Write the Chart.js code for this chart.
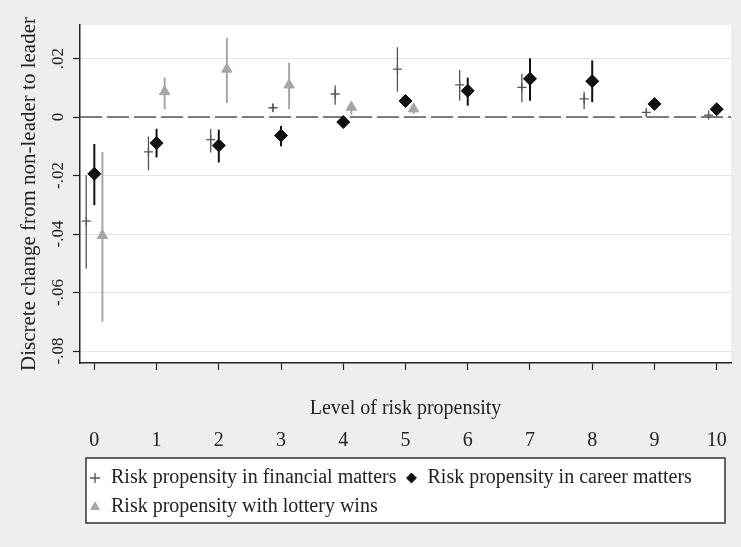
<!DOCTYPE html>
<html>
<head>
<meta charset="utf-8">
<script src="https://cdn.jsdelivr.net/npm/chart.js@4.4.1/dist/chart.umd.min.js"></script>
<style>
  html, body { margin: 0; padding: 0; background: #eeeeee; }
</style>
</head>
<body>
<canvas id="myChart" width="741" height="547"></canvas>
<script>
// risk propensity levels (x categories)
var levels = [0, 1, 2, 3, 4, 5, 6, 7, 8, 9, 10];
var xTickLabels = ["0", "1", "2", "3", "4", "5", "6", "7", "8", "9", "10"];
var yTicks = [-0.08, -0.06, -0.04, -0.02, 0, 0.02];
var yTickLabels = ["-.08", "-.06", "-.04", "-.02", "0", ".02"];
var seriesNames = [
  "Risk propensity in financial matters",
  "Risk propensity in career matters",
  "Risk propensity with lottery wins"
];

// discrete change estimates with confidence limits
var financialEst  = [-0.0356, -0.0119, -0.0077, 0.0032, 0.0079, 0.0164, 0.0110, 0.0102, 0.0062, 0.0016, 0.0007];
var financialLow  = [-0.0519, -0.0182, -0.0121, 0.0019, 0.0042, 0.0087, 0.0056, 0.0051, 0.0027, 0.0006, 0.0001];
var financialHigh = [-0.0199, -0.0066, -0.0041, 0.0045, 0.0108, 0.0239, 0.0161, 0.0148, 0.0087, 0.0026, 0.0014];

var careerEst  = [-0.0194, -0.0089, -0.0097, -0.0063, -0.0017, 0.0055, 0.0090, 0.0131, 0.0123, 0.0045, 0.0027];
var careerLow  = [-0.0301, -0.0138, -0.0155, -0.0100, -0.0024, 0.0035, 0.0039, 0.0056, 0.0051, 0.0035, 0.0021];
var careerHigh = [-0.0092, -0.0040, -0.0043, -0.0030, -0.0010, 0.0068, 0.0135, 0.0201, 0.0194, 0.0055, 0.0033];

var lotteryEst  = [-0.0405, 0.0087, 0.0164, 0.0110, 0.0034, 0.0028, null, null, null, null, null];
var lotteryLow  = [-0.0700, 0.0027, 0.0048, 0.0027, 0.0008, 0.0011, null, null, null, null, null];
var lotteryHigh = [-0.0119, 0.0135, 0.0271, 0.0186, 0.0052, 0.0037, null, null, null, null, null];

var refLineValue = 0;

var xMin = -0.23, xMax = 10.23;
var yMin = -0.0841, yMax = 0.0315;
var serif = "'Liberation Serif', 'Times New Roman', serif";
var textColor = "#222";

function pts(est, shift) {
  var out = [];
  levels.forEach(function (lv, i) {
    if (est[i] !== null) out.push({ x: lv + shift, y: est[i] });
  });
  return out;
}
function ranges(lo, hi, shift) {
  var out = [];
  levels.forEach(function (lv, i) {
    if (lo[i] !== null) out.push({ x: lv + shift, y: [lo[i], hi[i]] });
  });
  return out;
}

var bgPlugin = {
  id: "bg",
  beforeDraw: function (chart) {
    var ctx = chart.ctx, a = chart.chartArea, lg = chart.legend;
    ctx.save();
    ctx.fillStyle = "#eeeeee";
    ctx.fillRect(0, 0, chart.width, chart.height);
    ctx.fillStyle = "#ffffff";
    ctx.fillRect(a.left, a.top, a.right - a.left, a.bottom - a.top);
    // legend frame
    var l = lg.left + 6, t = lg.top - 1, r = lg.right - 6;
    ctx.fillRect(l, t, r - l, 65);
    ctx.strokeStyle = "#333";
    ctx.lineWidth = 1.5;
    ctx.strokeRect(l, t, r - l, 65);
    ctx.restore();
  }
};

new Chart("myChart", {
  type: "scatter",
  data: {
    datasets: [
      {
        label: seriesNames[0], type: "scatter", data: pts(financialEst, -0.13), order: 0,
        pointStyle: "cross", pointRadius: 4.5, borderColor: "#555", backgroundColor: "#555", borderWidth: 1.3
      },
      {
        label: seriesNames[1], type: "scatter", data: pts(careerEst, 0), order: 1,
        pointStyle: "rectRot", pointRadius: 6.5, borderColor: "#111", backgroundColor: "#111", borderWidth: 1
      },
      {
        label: seriesNames[2], type: "scatter", data: pts(lotteryEst, 0.13), order: 2,
        pointStyle: "triangle", pointRadius: 6, borderColor: "#a6a6a6", backgroundColor: "#a6a6a6", borderWidth: 1
      },
      {
        type: "bar", data: ranges(financialLow, financialHigh, -0.13), order: 3,
        grouped: false, maxBarThickness: 1.3, backgroundColor: "#555", borderWidth: 0
      },
      {
        type: "bar", data: ranges(careerLow, careerHigh, 0), order: 4,
        grouped: false, maxBarThickness: 2, backgroundColor: "#111", borderWidth: 0
      },
      {
        type: "bar", data: ranges(lotteryLow, lotteryHigh, 0.13), order: 5,
        grouped: false, maxBarThickness: 2, backgroundColor: "#a6a6a6", borderWidth: 0
      },
      {
        type: "line", data: [{ x: xMin, y: refLineValue }, { x: xMax, y: refLineValue }], order: 9,
        borderColor: "#555", borderWidth: 1.5, borderDash: [22, 5], pointRadius: 0, fill: false
      }
    ]
  },
  options: {
    responsive: false,
    animation: false,
    layout: { padding: { top: 25, right: 10, bottom: 20, left: 0 } },
    scales: {
      x: {
        type: "linear", position: "bottom", min: xMin, max: xMax, offset: false,
        grid: { display: true, drawOnChartArea: false, drawTicks: true, tickLength: 7, tickColor: "#222", tickWidth: 1.2, offset: false },
        border: { display: true, color: "#222", width: 1.5 },
        ticks: { display: false },
        afterBuildTicks: function (s) { s.ticks = levels.map(function (v) { return { value: v }; }); },
        title: {
          display: true, text: "Level of risk propensity", color: textColor,
          font: { family: serif, size: 20 }, padding: { top: 27, bottom: 0 }
        }
      },
      x2: {
        type: "linear", position: "bottom", min: xMin, max: xMax, offset: false,
        grid: { display: false, drawTicks: false },
        border: { display: false },
        ticks: {
          padding: 8, color: textColor, font: { family: serif, size: 20 },
          maxRotation: 0, autoSkip: false,
          callback: function (v, i) { return xTickLabels[i]; }
        },
        afterBuildTicks: function (s) { s.ticks = levels.map(function (v) { return { value: v }; }); },
        afterFit: function (s) { s.height = 38; }
      },
      y: {
        type: "linear", min: yMin, max: yMax,
        grid: { color: "#e6e6e6", lineWidth: 1, tickColor: "#222", tickLength: 7, tickWidth: 1.2 },
        border: { display: true, color: "#222", width: 1.5 },
        ticks: {
          minRotation: 90, maxRotation: 90, crossAlign: "center", padding: 1,
          color: textColor, font: { family: serif, size: 17 },
          callback: function (v, i) { return yTickLabels[i]; }
        },
        afterBuildTicks: function (s) { s.ticks = yTicks.map(function (v) { return { value: v }; }); },
        afterFit: function (s) { s.width = 80; },
        title: {
          display: true, text: "Discrete change from non-leader to leader", color: textColor,
          font: { family: serif, size: 21 }, padding: { top: 17, bottom: 0 }
        }
      }
    },
    plugins: {
      legend: {
        position: "bottom", fullSize: false, align: "start",
        labels: {
          usePointStyle: true, boxWidth: 12, boxHeight: 7, padding: 9,
          color: textColor, font: { family: serif, size: 20 },
          filter: function (item) { return item.datasetIndex < 3; }
        }
      },
      tooltip: { enabled: false }
    }
  },
  plugins: [bgPlugin]
});
</script>
</body>
</html>
